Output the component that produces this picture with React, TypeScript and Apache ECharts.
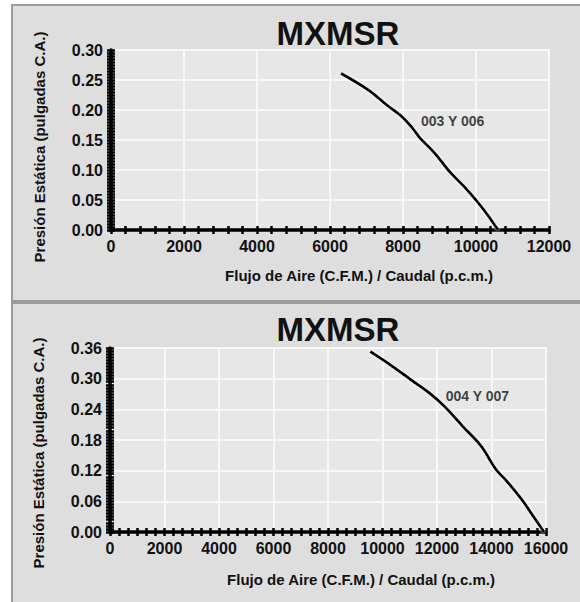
import React, { useEffect, useRef } from "react";
import * as echarts from "echarts";

// ---------- data ----------
const titleText = "MXMSR";
const yAxisName = "Presión Estática (pulgadas C.A.)";
const xAxisName = "Flujo de Aire (C.F.M.) / Caudal (p.c.m.)";

// top chart (003 Y 006)
const topName = "003 Y 006";
const topFlow = [6300, 7060, 7560, 7970, 8270, 8470, 8870, 9280, 9680, 10080, 10390, 10570, 10620];
const topPressure = [0.261, 0.233, 0.208, 0.189, 0.169, 0.153, 0.128, 0.097, 0.072, 0.044, 0.019, 0.003, 0.0];
const topLabelAnchor = [8480, 0.182];
const topXMax = 12000;
const topXStep = 2000;
const topYMax = 0.3;
const topYStep = 0.05;

// bottom chart (004 Y 007)
const botName = "004 Y 007";
const botFlow = [9550, 10370, 11040, 11720, 12270, 12940, 13620, 14170, 14570, 15120, 15530, 15930];
const botPressure = [0.353, 0.324, 0.298, 0.272, 0.246, 0.207, 0.168, 0.122, 0.099, 0.063, 0.031, 0.0];
const botLabelAnchor = [12300, 0.267];
const botXMax = 16000;
const botXStep = 2000;
const botYMax = 0.36;
const botYStep = 0.06;

const FONT = "Liberation Sans, Arial, sans-serif";

function pairs(xs: number[], ys: number[]) {
  return xs.map((x, i) => [x, ys[i]]);
}

const tickStyle = { color: "#000000", width: 2.5 };

function xAxisCfg(gridIndex: number, max: number, step: number, padLeft: number, gap: number, minorSplit: number) {
  return {
    type: "value",
    gridIndex,
    position: "bottom",
    min: 0,
    max,
    interval: step,
    name: xAxisName,
    nameLocation: "middle",
    nameGap: gap,
    nameTextStyle: { fontFamily: FONT, fontWeight: "bold", fontSize: 15, color: "#111", padding: [0, 0, 0, padLeft] },
    axisLine: { show: true, onZero: false, lineStyle: { color: "#000", width: 3.5 } },
    axisTick: { show: true, inside: false, length: 4, lineStyle: tickStyle },
    minorTick: { show: true, splitNumber: minorSplit, length: 4, lineStyle: tickStyle },
    axisLabel: {
      show: true,
      fontFamily: FONT,
      fontWeight: "bold",
      fontSize: 16,
      color: "#111",
      margin: 8,
      formatter: (v: number) => String(v),
    },
    splitLine: { show: true, lineStyle: { color: "#f8f8f8", width: 2 } },
    z: 3,
  };
}

function yAxisCfg(gridIndex: number, max: number, step: number, padTop: number) {
  return {
    type: "value",
    gridIndex,
    position: "left",
    min: 0,
    max,
    interval: step,
    name: yAxisName,
    nameLocation: "middle",
    nameRotate: 90,
    nameGap: 64,
    nameTextStyle: { fontFamily: FONT, fontWeight: "bold", fontSize: 15, color: "#111", padding: [0, padTop, 0, 0] },
    axisLine: { show: true, onZero: false, lineStyle: { color: "#000", width: 3.5 } },
    axisTick: { show: true, inside: false, length: 4, lineStyle: tickStyle },
    minorTick: { show: true, splitNumber: 10, length: 4, lineStyle: tickStyle },
    axisLabel: {
      show: true,
      fontFamily: FONT,
      fontWeight: "bold",
      fontSize: 16,
      color: "#111",
      margin: 8,
      formatter: (v: number) => v.toFixed(2),
    },
    splitLine: { show: true, lineStyle: { color: "#f8f8f8", width: 2 } },
    z: 3,
  };
}

// overlay axes: same scale, ticks pointing inside, so ticks cross the axis line
function innerAxis(gridIndex: number, max: number, step: number, pos: string, minorSplit: number) {
  return {
    type: "value",
    gridIndex,
    position: pos,
    min: 0,
    max,
    interval: step,
    axisLine: { show: false, onZero: false },
    axisTick: { show: true, inside: true, length: 4, lineStyle: tickStyle },
    minorTick: { show: true, splitNumber: minorSplit, length: 4, lineStyle: tickStyle },
    axisLabel: { show: false },
    splitLine: { show: false },
    z: 4,
  };
}

function curve(idx: number, data: number[][]) {
  return {
    type: "line",
    xAxisIndex: idx,
    yAxisIndex: idx,
    data,
    smooth: 0.35,
    showSymbol: false,
    symbol: "none",
    lineStyle: { color: "#000", width: 3, shadowColor: "rgba(255,255,255,0.9)", shadowBlur: 3 },
    z: 5,
  };
}

function labelSeries(idx: number, anchor: number[], text: string) {
  return {
    type: "scatter",
    xAxisIndex: idx,
    yAxisIndex: idx,
    symbolSize: 1,
    itemStyle: { color: "rgba(0,0,0,0)" },
    data: [anchor],
    label: {
      show: true,
      position: "right",
      distance: 0,
      formatter: text,
      fontFamily: FONT,
      fontWeight: "bold",
      fontSize: 14,
      color: "#111",
    },
    z: 6,
  };
}

export default function App() {
  const ref = useRef<HTMLDivElement>(null);
  useEffect(() => {
    if (!ref.current) return;
    const chart = echarts.init(ref.current, undefined, { renderer: "svg" });
    const topGrid = { left: 111, top: 50, width: 438, height: 180 };
    const botGrid = { left: 110, top: 348, width: 436, height: 184 };
    chart.setOption({
      animation: false,
      backgroundColor: "#ffffff",
      graphic: [
        { type: "rect", shape: { x: 12, y: 5, width: 572, height: 296 }, style: { fill: "#dedede", stroke: "#9c9c9c", lineWidth: 2 }, z: -10 },
        { type: "rect", shape: { x: 12, y: 303, width: 572, height: 304 }, style: { fill: "#dedede", stroke: "#9c9c9c", lineWidth: 2 }, z: -10 },
      ],
      title: [
        { text: titleText, left: 333, top: 12, textAlign: "center", textStyle: { fontFamily: FONT, fontWeight: "bold", fontSize: 33, color: "#111" } },
        { text: titleText, left: 333, top: 308, textAlign: "center", textStyle: { fontFamily: FONT, fontWeight: "bold", fontSize: 33, color: "#111" } },
      ],
      grid: [
        { ...topGrid, show: true, backgroundColor: "#e7e7e7", borderColor: "#f8f8f8", borderWidth: 2 },
        { ...botGrid, show: true, backgroundColor: "#e7e7e7", borderColor: "#f8f8f8", borderWidth: 2 },
        { ...topGrid, show: false },
        { ...botGrid, show: false },
      ],
      xAxis: [
        xAxisCfg(0, topXMax, topXStep, 58, 38, 5),
        xAxisCfg(1, botXMax, botXStep, 66, 40, 6),
        innerAxis(2, topXMax, topXStep, "bottom", 5),
        innerAxis(3, botXMax, botXStep, "bottom", 6),
      ],
      yAxis: [
        yAxisCfg(0, topYMax, topYStep, 14),
        yAxisCfg(1, botYMax, botYStep, 26),
        innerAxis(2, topYMax, topYStep, "left", 10),
        innerAxis(3, botYMax, botYStep, "left", 10),
      ],
      series: [
        curve(0, pairs(topFlow, topPressure)),
        labelSeries(0, topLabelAnchor, topName),
        curve(1, pairs(botFlow, botPressure)),
        labelSeries(1, botLabelAnchor, botName),
      ],
    });
    return () => chart.dispose();
  }, []);
  return <div ref={ref} style={{ position: "fixed", left: 0, top: 0, width: 580, height: 602 }} />;
}
